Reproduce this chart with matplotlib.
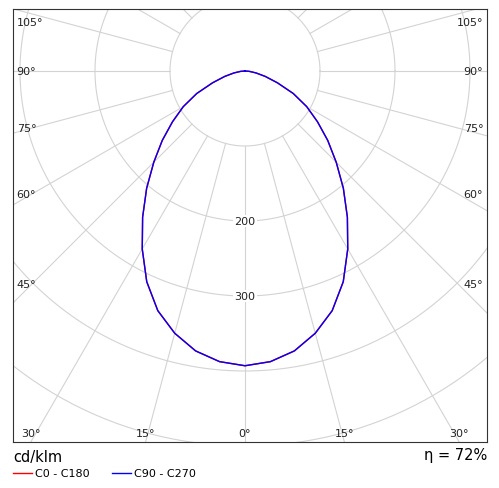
import numpy as np
import matplotlib.pyplot as plt
from matplotlib.lines import Line2D

# luminous intensity (cd/klm) vs gamma angle
gamma = [0, 5, 10, 15, 20, 25, 30, 35, 40, 45, 50, 55, 60, 65, 70, 75, 80, 85, 90]
c0_c180 = [393, 389, 379, 362, 340, 310, 274, 238, 204, 172, 144, 118, 95, 71, 46, 28, 15, 6, 0]
c90_c270 = [393, 389, 379, 362, 340, 310, 274, 238, 204, 172, 144, 118, 95, 71, 46, 28, 15, 6, 0]
ring_labels = [200, 300]
efficiency = "η = 72%"

W, H = 499, 489
fig = plt.figure(figsize=(W / 100, H / 100), dpi=100)
ax = fig.add_axes([13 / W, 1 - 443 / H, 474 / W, 433 / H])

s = 0.75  # px per cd
xmin, xmax = -232 / s, 242 / s
ymin, ymax = -371 / s, 62 / s
ax.set_xlim(xmin, xmax)
ax.set_ylim(ymin, ymax)
ax.set_xticks([])
ax.set_yticks([])
for sp in ax.spines.values():
    sp.set_color("#333333")
    sp.set_linewidth(0.8)

grid = "#d3d3d3"
th = np.linspace(0, 2 * np.pi, 400)
for r in range(100, 800, 100):
    ax.plot(r * np.cos(th), r * np.sin(th), color=grid, lw=0.8, zorder=1)
for a in range(-180, 181, 15):
    ar = np.radians(a)
    ax.plot([100 * np.sin(ar), 1000 * np.sin(ar)], [-100 * np.cos(ar), -1000 * np.cos(ar)],
            color=grid, lw=0.8, zorder=1)

# angle labels where rays meet the frame
fs = 8
for a in [30, 15, 0]:
    x = -ymin * np.tan(np.radians(a))
    for sx in ([-1, 1] if a else [1]):
        ax.text(sx * x, ymin + 5, f"{a}°", ha="center", va="bottom", fontsize=fs, color="#222222")
for a in [45, 60, 75, 90, 105]:
    ar = np.radians(a)
    y = -0.92 * abs(xmin) / np.tan(ar)
    y = min(max(y, ymin + 15), ymax - 17)
    for sx, xe, ha in [(-1, xmin, "left"), (1, xmax, "right")]:
        ax.text(xe - sx * 5, y, f"{a}°", ha=ha, va="center", fontsize=fs, color="#222222")

for r in ring_labels:
    ax.text(0, -r, str(r), ha="center", va="center", fontsize=fs, color="#222222",
            bbox=dict(facecolor="white", edgecolor="none", pad=1), zorder=2)

g = np.radians(gamma)
for data, col in [(c0_c180, "red"), (c90_c270, "blue")]:
    d = np.array(data)
    gg = np.concatenate([-g[::-1], g])
    dd = np.concatenate([d[::-1], d])
    ax.plot(dd * np.sin(gg), -dd * np.cos(gg), color=col, lw=1, zorder=3)

fig.text(13 / W, 1 - 458 / H, "cd/klm", fontsize=10.5, va="center")
fig.text(487 / W, 1 - 456 / H, efficiency, fontsize=10.5, va="center", ha="right")
for x0, col, lab in [(13, "red", "C0 - C180"), (112, "blue", "C90 - C270")]:
    fig.add_artist(Line2D([x0 / W, (x0 + 19) / W], [1 - 474 / H] * 2, color=col, lw=1))
    fig.text((x0 + 22) / W, 1 - 474 / H, lab, fontsize=8, va="center")

fig.savefig("out.png", dpi=100)
